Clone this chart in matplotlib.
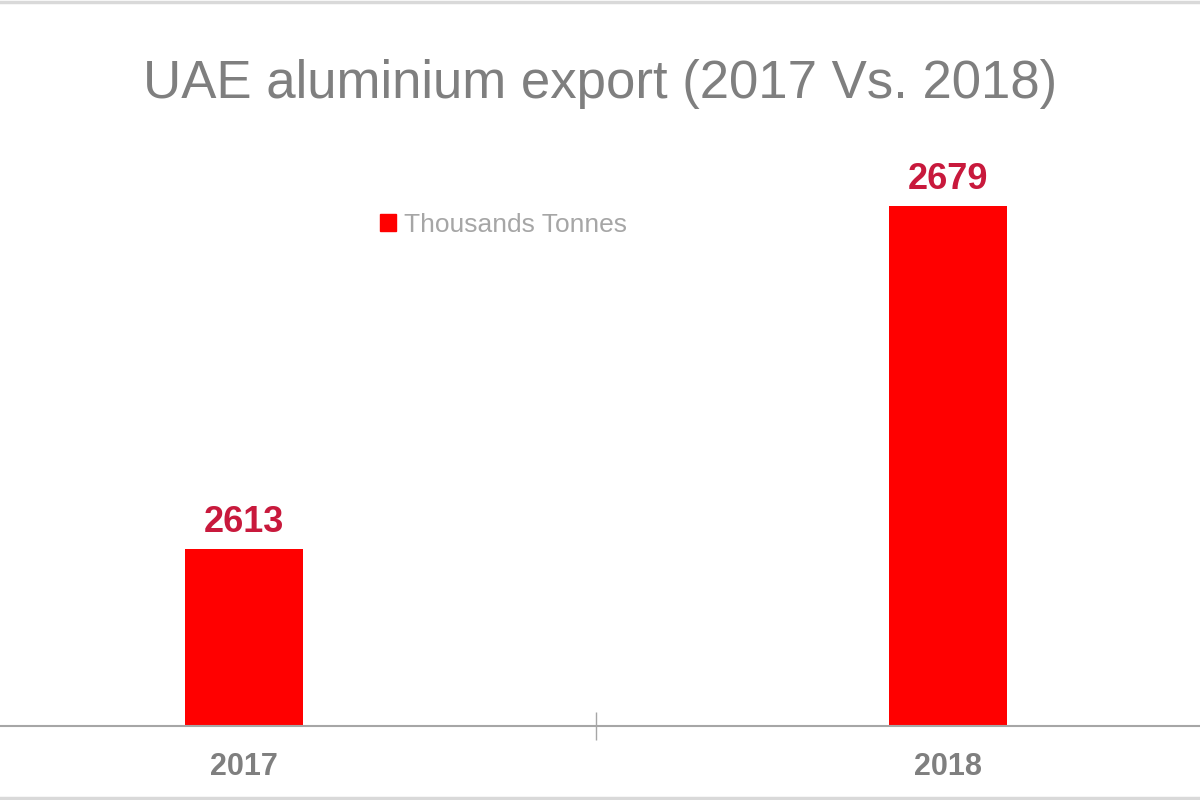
import matplotlib
matplotlib.use("Agg")
import matplotlib.pyplot as plt
from matplotlib.patches import Patch
from matplotlib.lines import Line2D

years = ["2017", "2018"]
exports = [2613, 2679]
series_name = "Thousands Tonnes"
title = "UAE aluminium export (2017 Vs. 2018)"

plt.rcParams['font.family'] = ['Liberation Sans', 'DejaVu Sans']

fig = plt.figure(figsize=(12, 8), dpi=100)
fig.patch.set_facecolor('white')

# thin grey frame lines top and bottom, like the slide edge
for yy in (0.998, 0.003):
    fig.add_artist(Line2D([0, 1], [yy, yy], transform=fig.transFigure,
                          color='#d9d9d9', linewidth=2.5))

ax = fig.add_axes([0, 0.0925, 1, 0.721])
ax.patch.set_alpha(0)
x = list(range(len(years)))
bars = ax.bar(x, exports, width=0.167, color='#ff0000', label=series_name)

ax.set_xlim(-0.3466, 1.358)
ax.set_ylim(2579, 2690)

for side in ['top', 'left', 'right']:
    ax.spines[side].set_visible(False)
ax.spines['bottom'].set_color('#a6a6a6')
ax.spines['bottom'].set_linewidth(1.5)
ax.set_yticks([])

ax.set_xticks(x)
ax.set_xticklabels(years, fontsize=22, fontweight='bold', color='#7f7f7f')
ax.tick_params(axis='x', which='major', length=0, pad=19)
ax.set_xticks([0.5], minor=True)
ax.tick_params(axis='x', which='minor', length=20, direction='inout',
               color='#a6a6a6', width=1)

ax.bar_label(bars, labels=[str(v) for v in exports], padding=7,
             fontsize=26, fontweight='bold', color='#c8193c')

fig.text(0.5, 0.895, title, ha='center', va='center', fontsize=38,
         color='#7f7f7f')

fig.legend(handles=[Patch(color='#ff0000', label=series_name)],
           loc='center left', bbox_to_anchor=(380 / 1200, 1 - 225 / 800),
           frameon=False, fontsize=19, labelcolor='#a6a6a6',
           handlelength=0.6, handleheight=0.6, handletextpad=0.3,
           borderpad=0, borderaxespad=0)

fig.savefig('out.png', dpi=100, facecolor=fig.get_facecolor())
